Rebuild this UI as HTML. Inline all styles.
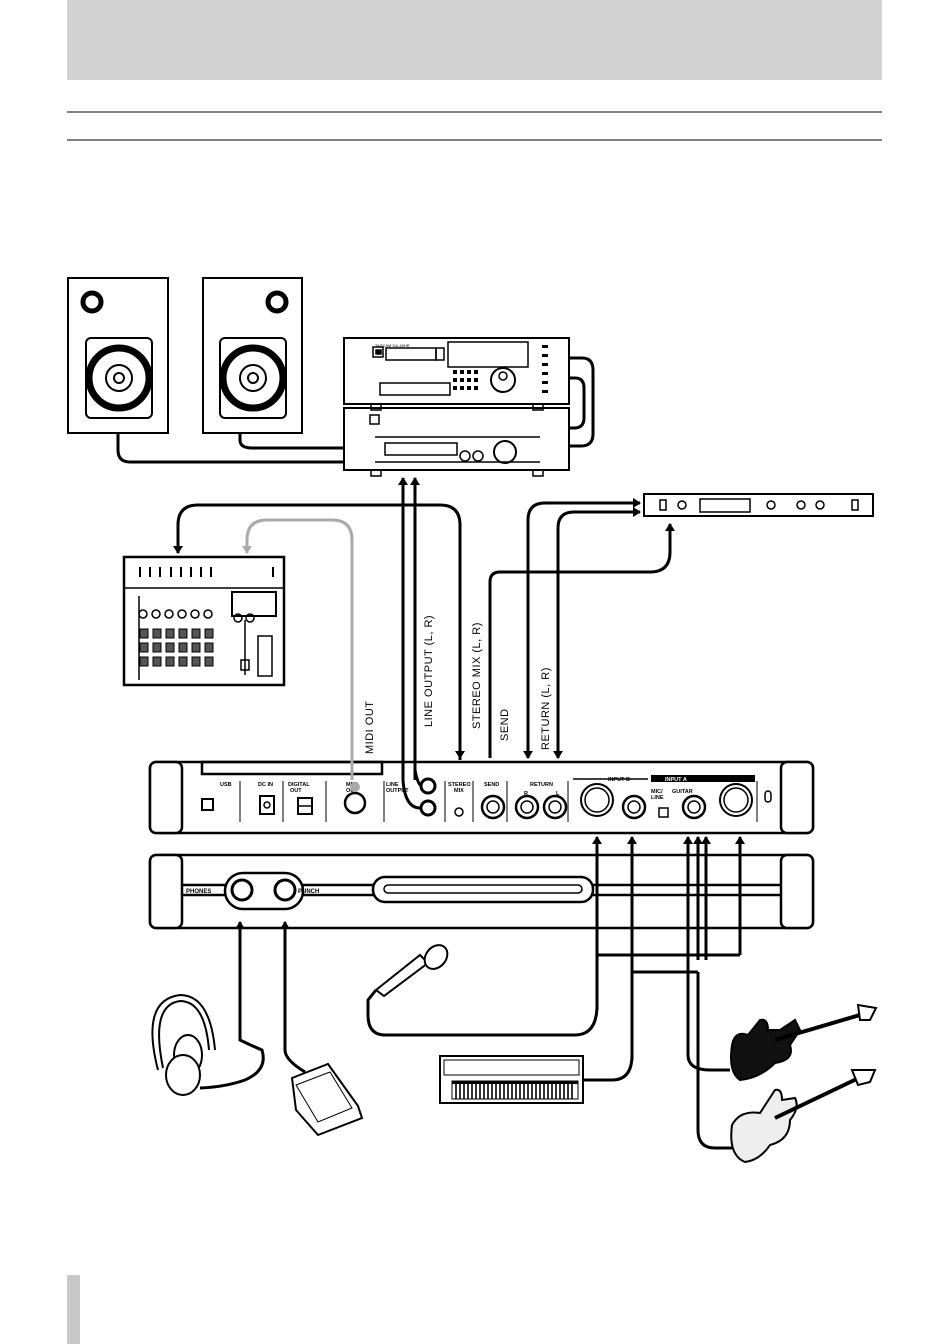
<!DOCTYPE html>
<html><head><meta charset="utf-8"><style>
html,body{margin:0;padding:0;background:#fff;}
svg{display:block;font-family:"Liberation Sans",sans-serif;}
</style></head><body>
<svg width="950" height="1344" viewBox="0 0 950 1344" xmlns="http://www.w3.org/2000/svg">
<defs>
<marker id="ah" markerWidth="8" markerHeight="10" refX="7" refY="5" orient="auto" markerUnits="userSpaceOnUse"><path d="M0,0 L8,5 L0,10 z" fill="#000"/></marker>
<marker id="ahg" markerWidth="8" markerHeight="10" refX="7" refY="5" orient="auto" markerUnits="userSpaceOnUse"><path d="M0,0 L8,5 L0,10 z" fill="#aaa"/></marker>
</defs>
<rect x="67" y="0" width="815" height="80" fill="#d2d2d2"/>
<line x1="67" y1="112" x2="882" y2="112" stroke="#000" stroke-width="1"/>
<line x1="67" y1="140" x2="882" y2="140" stroke="#000" stroke-width="1"/>
<rect x="67" y="1275" width="13" height="69" fill="#c8c8c8"/>

<g stroke="#000" fill="none" stroke-width="2">
<rect x="68" y="278" width="100" height="155"/>
<rect x="86" y="338" width="66" height="80" rx="5"/>
<circle cx="119" cy="378" r="30" stroke-width="7"/><circle cx="119" cy="378" r="13"/><circle cx="119" cy="378" r="5"/>
<circle cx="92" cy="302" r="9" stroke-width="5"/>
<rect x="203" y="278" width="99" height="155"/>
<rect x="220" y="338" width="66" height="80" rx="5"/>
<circle cx="253" cy="378" r="30" stroke-width="7"/><circle cx="253" cy="378" r="13"/><circle cx="253" cy="378" r="5"/>
<circle cx="277" cy="302" r="9" stroke-width="5"/>
</g>
<g stroke="#000" fill="none" stroke-width="1.5">
<rect x="344" y="338" width="225" height="66" stroke-width="2"/>
<rect x="373" y="347" width="10" height="10"/><rect x="376" y="350" width="5" height="4" fill="#000"/>
<rect x="386" y="348" width="50" height="12"/><rect x="436" y="348" width="8" height="12"/>
<rect x="448" y="342" width="80" height="25"/>
<rect x="380" y="383" width="70" height="12"/>
<circle cx="503" cy="380" r="12" stroke-width="2"/><circle cx="503" cy="376" r="4"/>
<rect x="344" y="408" width="225" height="62" stroke-width="2"/>
<rect x="385" y="443" width="72" height="12"/>
<circle cx="465" cy="456" r="5"/><circle cx="478" cy="456" r="5"/><circle cx="505" cy="452" r="11" stroke-width="2"/>
<rect x="370" y="415" width="9" height="9"/>
<line x1="375" y1="437" x2="540" y2="437"/><line x1="375" y1="462" x2="540" y2="462"/>
<rect x="371" y="404" width="10" height="6"/><rect x="533" y="404" width="10" height="6"/>
<rect x="371" y="470" width="10" height="6"/><rect x="533" y="470" width="10" height="6"/>
</g>
<text x="375" y="347" font-size="4">TASCAM DA-45HR</text>
<g fill="#000">
<rect x="453" y="370" width="4" height="4"/><rect x="460" y="370" width="4" height="4"/><rect x="467" y="370" width="4" height="4"/><rect x="474" y="370" width="4" height="4"/>
<rect x="453" y="378" width="4" height="4"/><rect x="460" y="378" width="4" height="4"/><rect x="467" y="378" width="4" height="4"/><rect x="474" y="378" width="4" height="4"/>
<rect x="453" y="386" width="4" height="4"/><rect x="460" y="386" width="4" height="4"/><rect x="467" y="386" width="4" height="4"/><rect x="474" y="386" width="4" height="4"/>
<rect x="542" y="345" width="6" height="3"/><rect x="542" y="354" width="6" height="3"/><rect x="542" y="363" width="6" height="3"/><rect x="542" y="372" width="6" height="3"/><rect x="542" y="381" width="6" height="3"/><rect x="542" y="390" width="6" height="3"/>
</g>
<g stroke="#000" fill="none" stroke-width="1.5">
<rect x="644" y="494" width="229" height="22" stroke-width="2"/>
<rect x="660" y="500" width="6" height="10"/><circle cx="682" cy="505" r="4"/>
<rect x="700" y="499" width="50" height="13"/>
<circle cx="771" cy="505" r="4"/><circle cx="801" cy="505" r="4"/><circle cx="820" cy="505" r="4"/>
<rect x="852" y="500" width="6" height="10"/>
</g>
<g stroke="#000" fill="none" stroke-width="1.5">
<rect x="124" y="557" width="160" height="128" stroke-width="2.5"/>
<line x1="124" y1="588" x2="284" y2="588"/>
<line x1="139" y1="596" x2="139" y2="680"/>
<rect x="232" y="592" width="44" height="24" stroke-width="2"/>
<rect x="258" y="636" width="14" height="40"/>
<line x1="245" y1="620" x2="245" y2="675"/>
<rect x="241" y="660" width="8" height="10"/>
</g>
<g fill="#000">
<rect x="139" y="567" width="2" height="10"/><rect x="149" y="567" width="2" height="10"/><rect x="159" y="567" width="2" height="10"/><rect x="170" y="567" width="2" height="10"/><rect x="180" y="567" width="2" height="10"/><rect x="190" y="567" width="2" height="10"/><rect x="200" y="567" width="2" height="10"/><rect x="210" y="567" width="2" height="10"/><rect x="272" y="567" width="2" height="10"/>
</g>
<g fill="#555" stroke="#000">
<rect x="140" y="629" width="8" height="9"/><rect x="153" y="629" width="8" height="9"/><rect x="166" y="629" width="8" height="9"/><rect x="179" y="629" width="8" height="9"/><rect x="192" y="629" width="8" height="9"/><rect x="205" y="629" width="8" height="9"/>
<rect x="140" y="643" width="8" height="9"/><rect x="153" y="643" width="8" height="9"/><rect x="166" y="643" width="8" height="9"/><rect x="179" y="643" width="8" height="9"/><rect x="192" y="643" width="8" height="9"/><rect x="205" y="643" width="8" height="9"/>
<rect x="140" y="657" width="8" height="9"/><rect x="153" y="657" width="8" height="9"/><rect x="166" y="657" width="8" height="9"/><rect x="179" y="657" width="8" height="9"/><rect x="192" y="657" width="8" height="9"/><rect x="205" y="657" width="8" height="9"/>
</g>
<g fill="none" stroke="#000" stroke-width="1.5">
<circle cx="143" cy="614" r="4"/><circle cx="156" cy="614" r="4"/><circle cx="169" cy="614" r="4"/><circle cx="182" cy="614" r="4"/><circle cx="195" cy="614" r="4"/><circle cx="208" cy="614" r="4"/><circle cx="238" cy="618" r="4"/><circle cx="250" cy="618" r="4"/>
</g>

<g stroke="#000" fill="none" stroke-width="2.5">
<rect x="150" y="762" width="663" height="71" rx="6"/>
<rect x="150" y="762" width="32" height="71" rx="6" fill="#fff"/>
<rect x="781" y="762" width="32" height="71" rx="6" fill="#fff"/>
<rect x="202" y="762" width="180" height="12"/>
<rect x="150" y="855" width="663" height="73" rx="6"/>
<rect x="150" y="855" width="32" height="73" rx="6" fill="#fff"/>
<rect x="781" y="855" width="32" height="73" rx="6" fill="#fff"/>
<line x1="182" y1="885" x2="781" y2="885"/><line x1="182" y1="895" x2="781" y2="895"/>
<rect x="373" y="877" width="220" height="25" rx="12" fill="#fff"/>
<rect x="384" y="885" width="198" height="8" rx="4" stroke-width="1.5"/>
<rect x="225" y="873" width="78" height="36" rx="18" fill="#fff"/>
<circle cx="242" cy="890" r="10" stroke-width="3"/><circle cx="285" cy="890" r="10" stroke-width="3"/>
</g>
<text x="186" y="893" font-size="6" font-weight="bold">PHONES</text>
<text x="298" y="893" font-size="6" font-weight="bold">PUNCH</text>
<g stroke="#000" fill="none" stroke-width="1.5">
<line x1="240" y1="781" x2="240" y2="822" stroke-width="1"/><line x1="283" y1="781" x2="283" y2="822" stroke-width="1"/><line x1="326" y1="781" x2="326" y2="822" stroke-width="1"/><line x1="384" y1="781" x2="384" y2="822" stroke-width="1"/><line x1="445" y1="781" x2="445" y2="822" stroke-width="1"/><line x1="473" y1="781" x2="473" y2="822" stroke-width="1"/><line x1="507" y1="781" x2="507" y2="822" stroke-width="1"/><line x1="568" y1="781" x2="568" y2="822" stroke-width="1"/><line x1="757" y1="781" x2="757" y2="822" stroke-width="1"/>
<rect x="202" y="799" width="11" height="11" stroke-width="2"/>
<rect x="260" y="796" width="14" height="18" stroke-width="2"/><circle cx="267" cy="805" r="3"/>
<rect x="298" y="798" width="14" height="16" stroke-width="2"/><line x1="298" y1="806" x2="312" y2="806"/>
<circle cx="355" cy="803" r="10" stroke-width="2.5"/>
<circle cx="428" cy="786" r="7" stroke-width="3"/><circle cx="428" cy="808" r="7" stroke-width="3"/>
<circle cx="459" cy="812" r="4"/>
<circle cx="493" cy="807" r="11" stroke-width="2.5"/><circle cx="493" cy="807" r="6"/>
<circle cx="527" cy="807" r="11" stroke-width="2.5"/><circle cx="527" cy="807" r="6"/>
<circle cx="555" cy="807" r="11" stroke-width="2.5"/><circle cx="555" cy="807" r="6"/>
<circle cx="597" cy="800" r="16" stroke-width="2"/><circle cx="597" cy="800" r="12"/>
<circle cx="634" cy="807" r="11" stroke-width="2.5"/><circle cx="634" cy="807" r="6"/>
<circle cx="694" cy="807" r="11" stroke-width="2.5"/><circle cx="694" cy="807" r="6"/>
<circle cx="736" cy="800" r="16" stroke-width="2"/><circle cx="736" cy="800" r="12"/>
<rect x="659" y="808" width="9" height="9"/>
<rect x="765" y="791" width="6" height="11" rx="3"/>
<line x1="573" y1="779" x2="648" y2="779"/>
</g>
<rect x="651" y="775" width="104" height="7" fill="#000"/>
<g font-size="5.5" font-weight="bold">
<text x="220" y="786">USB</text><text x="258" y="786">DC IN</text><text x="288" y="786">DIGITAL</text><text x="290" y="792">OUT</text>
<text x="346" y="786">MIDI</text><text x="346" y="792">OUT</text><text x="386" y="786">LINE</text><text x="386" y="792">OUTPUT</text>
<text x="448" y="786">STEREO</text><text x="454" y="792">MIX</text><text x="484" y="786">SEND</text>
<text x="530" y="786">RETURN</text><text x="524" y="795">R</text><text x="556" y="795">L</text>
<text x="608" y="781">INPUT B</text><text x="665" y="781" fill="#fff">INPUT A</text>
<text x="651" y="793">MIC/</text><text x="651" y="799">LINE</text><text x="672" y="793">GUITAR</text>
</g>

<g stroke="#000" fill="none" stroke-width="3">
<path d="M118,433 V450 Q118,462 130,462 H344"/>
<path d="M240,433 V440 Q240,448 252,448 H344"/>
<path d="M569,358 H582 Q593,358 593,370 V434 Q593,446 581,446 H569"/>
<path d="M569,378 H575 Q584,378 584,388 V418 Q584,428 574,428 H569"/>
<path d="M403,780 V478" marker-end="url(#ah)"/>
<path d="M415,780 V478" marker-end="url(#ah)"/>
<path d="M403,780 Q405,808 420,808"/>
<path d="M415,770 Q418,786 422,786"/>
<path d="M460,760 V525 Q460,505 440,505 H198 Q178,505 178,525 V553" marker-end="url(#ah)"/>
<path d="M460,535 V758" marker-end="url(#ah)"/>
<path d="M490,758 V582 Q490,572 500,572 H650 Q670,572 670,552 V524" marker-end="url(#ah)"/>
<path d="M528,758 V520 Q528,503 545,503 H640" marker-end="url(#ah)"/>
<path d="M528,540 V758" marker-end="url(#ah)"/>
<path d="M558,758 V528 Q558,512 574,512 H640" marker-end="url(#ah)"/>
<path d="M558,540 V758" marker-end="url(#ah)"/>
<path d="M240,1035 V922" marker-end="url(#ah)"/>
<path d="M285,1040 V922" marker-end="url(#ah)"/>
<path d="M240,1030 V1040 Q250,1045 262,1050 Q268,1070 245,1080 Q225,1087 200,1088"/>
<path d="M285,1040 V1050 Q285,1060 305,1072"/>
<path d="M597,1010 V837" marker-end="url(#ah)"/>
<path d="M597,1005 Q597,1035 575,1035 H385 Q368,1035 368,1015 V1000 L376,990"/>
<path d="M632,1060 V837" marker-end="url(#ah)"/>
<path d="M632,1055 Q632,1080 612,1080 H583"/>
<path d="M688,1055 V837" marker-end="url(#ah)"/>
<path d="M688,1055 Q688,1070 710,1070 H730"/>
<path d="M698,960 V837" marker-end="url(#ah)"/>
<path d="M706,960 V837" marker-end="url(#ah)"/>
<path d="M740,955 V837" marker-end="url(#ah)"/>
<path d="M597,955 H740"/>
<path d="M632,972 H698"/>
<path d="M698,972 V1130 Q698,1148 715,1148 H735"/>
</g>
<path d="M352,780 V540 Q352,520 332,520 H267 Q247,520 247,540 V553" stroke="#aaa" stroke-width="3" fill="none" marker-end="url(#ahg)"/>
<circle cx="355" cy="787" r="5" fill="#aaa"/>

<g font-size="11" letter-spacing="0.5">
<text transform="translate(373,754) rotate(-90)">MIDI OUT</text>
<text transform="translate(432,727) rotate(-90)">LINE OUTPUT (L, R)</text>
<text transform="translate(480,729) rotate(-90)">STEREO MIX (L, R)</text>
<text transform="translate(508,741) rotate(-90)">SEND</text>
<text transform="translate(549,750) rotate(-90)">RETURN (L, R)</text>
</g>

<g stroke="#000" stroke-width="2" fill="#fff">
<path d="M376,990 L420,955 L428,963 L384,996 z"/>
<ellipse cx="436" cy="957" rx="10" ry="13" transform="rotate(40 436 957)"/>
</g>
<g stroke="#000" stroke-width="2" fill="#fff">
<rect x="440" y="1056" width="143" height="47"/>
<rect x="444" y="1060" width="135" height="15" stroke-width="1"/>
</g>
<g fill="#000">
<rect x="452" y="1081" width="126" height="3"/>
<path d="M452,1081 h126 v18 h-126z" fill="none" stroke="#000"/>
</g>
<g stroke="#000" stroke-width="1.6">
<path d="M456,1081v18M460,1081v18M464,1081v18M468,1081v18M472,1081v18M476,1081v18M480,1081v18M484,1081v18M488,1081v18M492,1081v18M496,1081v18M500,1081v18M504,1081v18M508,1081v18M512,1081v18M516,1081v18M520,1081v18M524,1081v18M528,1081v18M532,1081v18M536,1081v18M540,1081v18M544,1081v18M548,1081v18M552,1081v18M556,1081v18M560,1081v18M564,1081v18M568,1081v18M572,1081v18"/>
</g>
<g stroke="#000" stroke-width="2" fill="#fff">
<path d="M158,1070 Q140,1000 180,995 Q210,995 215,1050"/>
<path d="M163,1068 Q150,1005 180,1001 Q205,1001 209,1050"/>
<ellipse cx="188" cy="1055" rx="14" ry="20"/>
<ellipse cx="183" cy="1075" rx="17" ry="20"/>
</g>
<g stroke="#000" stroke-width="2" fill="#fff">
<path d="M292,1078 L328,1064 L358,1106 L362,1118 L318,1135 L296,1110 z"/>
<path d="M296,1085 L330,1072 L352,1108 L318,1122 z" stroke-width="1"/>
</g>
<g stroke="#000" stroke-width="2">
<path d="M732,1045 Q735,1030 748,1035 L760,1020 Q768,1018 768,1030 L780,1030 L795,1020 L800,1030 L790,1045 Q795,1060 775,1063 Q760,1078 740,1080 Q728,1072 732,1045z" fill="#111"/>
<path d="M775,1040 L870,1012" stroke-width="4"/>
<path d="M858,1005 L876,1008 L870,1020 L860,1020z" fill="#fff"/>
<path d="M732,1125 Q740,1110 760,1113 L775,1090 Q782,1088 782,1100 L795,1098 Q800,1108 790,1120 Q790,1140 770,1145 Q760,1160 745,1162 Q728,1155 732,1125z" fill="#eee"/>
<path d="M775,1118 L865,1075" stroke-width="4"/>
<path d="M852,1070 L875,1070 L870,1082 L858,1085z" fill="#fff"/>
</g>
</svg>
</body></html>
